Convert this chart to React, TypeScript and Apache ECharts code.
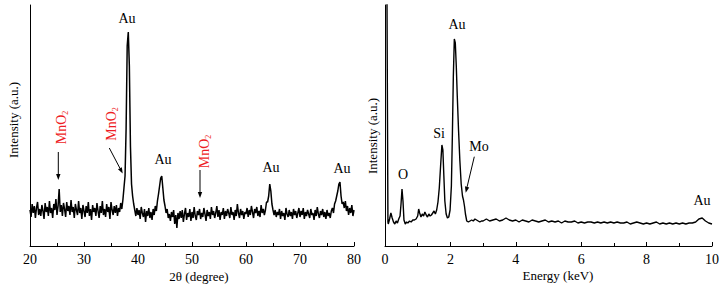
import { useEffect, useRef } from "react";
import * as echarts from "echarts";

// XRD pattern: 2θ from 20 to 80 in steps of 0.2
const xrdStart = 20;
const xrdStep = 0.2;
const xrdIntensity = [
  36, 29, 42, 33, 40, 28, 38, 44, 31, 37,
  30, 41, 35, 27, 43, 34, 39, 30, 45, 33,
  38, 28, 42, 36, 47, 31, 40, 57, 34, 41,
  30, 43, 37, 29, 44, 35, 40, 31, 46, 34,
  39, 28, 42, 36, 31, 45, 33, 38, 27, 41,
  35, 29, 40, 33, 44, 30, 37, 26, 41, 34,
  38, 30, 43, 35, 28, 40, 33, 45, 31, 37,
  29, 42, 34, 39, 27, 44, 36, 31, 40, 33,
  41, 30, 38, 34, 43, 37, 46, 58, 70, 118,
  200, 214, 180, 100, 62, 50, 42, 36, 30, 38,
  31, 36, 27, 39, 33, 29, 37, 24, 35, 30,
  38, 28, 34, 26, 37, 31, 40, 35, 45, 52,
  60, 68, 70, 58, 46, 40, 33, 37, 28, 32,
  25, 34, 29, 36, 22, 31, 18, 33, 27, 35,
  28, 36, 24, 32, 38, 26, 33, 29, 37, 25,
  34, 28, 39, 30, 26, 35, 31, 37, 27, 33,
  29, 38, 32, 25, 36, 30, 34, 27, 39, 31,
  35, 28, 33, 40, 29, 36, 26, 34, 31, 38,
  27, 35, 30, 37, 33, 28, 39, 31, 34, 26,
  36, 30, 42, 33, 28, 37, 31, 35, 27, 34,
  32, 38, 29, 36, 31, 40, 34, 28, 37, 33,
  39, 30, 35, 29, 41, 33, 37, 31, 36, 44,
  44, 50, 62, 55, 42, 36, 31, 36, 29, 34,
  31, 37, 27, 35, 30, 33, 26, 38, 32, 29,
  36, 30, 34, 27, 37, 31, 35, 28, 33, 38,
  29, 35, 31, 38, 27, 34, 30, 36, 32, 28,
  37, 31, 33, 26, 36, 30, 39, 32, 28, 35,
  31, 37, 29, 34, 27, 36, 30, 33, 28, 35,
  38, 33, 42, 45, 50, 55, 62, 64, 50, 42,
  44, 38, 45, 35, 40, 31, 38, 33, 41, 30,
  36,
];

// EDS spectrum
const edsEnergy = [
  0.01, 0.06, 0.09, 0.1, 0.14, 0.18, 0.22, 0.26, 0.3, 0.34, 0.38, 0.42, 0.46, 0.49,
  0.52, 0.55, 0.58, 0.62, 0.66, 0.7, 0.75, 0.8, 0.85, 0.9, 0.95, 1.0, 1.03, 1.06,
  1.1, 1.14, 1.18, 1.22, 1.26, 1.3, 1.34, 1.38, 1.42, 1.46, 1.5, 1.54, 1.58, 1.62,
  1.66, 1.7, 1.74, 1.77, 1.8, 1.83, 1.87, 1.91, 1.95, 1.99, 2.03, 2.06, 2.09, 2.12,
  2.15, 2.18, 2.21, 2.25, 2.29, 2.33, 2.37, 2.4, 2.43, 2.46, 2.5, 2.55, 2.6, 2.65,
  2.7, 2.75, 2.8, 2.85, 2.9, 2.95,
  3.0, 3.1, 3.2, 3.3, 3.4, 3.5, 3.6, 3.7, 3.8, 3.9,
  4.0, 4.1, 4.2, 4.3, 4.4, 4.5, 4.6, 4.7, 4.8, 4.9,
  5.0, 5.1, 5.2, 5.3, 5.4, 5.5, 5.6, 5.7, 5.8, 5.9,
  6.0, 6.1, 6.2, 6.3, 6.4, 6.5, 6.6, 6.7, 6.8, 6.9,
  7.0, 7.1, 7.2, 7.3, 7.4, 7.5, 7.6, 7.7, 7.8, 7.9,
  8.0, 8.1, 8.2, 8.3, 8.4, 8.5, 8.6, 8.7, 8.8, 8.9,
  9.0, 9.1, 9.2, 9.3, 9.4, 9.5, 9.6, 9.7, 9.8, 9.9, 10.0,
];
const edsCounts = [
  250, 250, 24, 22, 27, 33, 28, 24, 22, 25, 23, 27, 30, 42,
  57, 45, 26, 22, 24, 23, 25, 24, 26, 26, 27, 30, 37, 33,
  29, 32, 30, 34, 31, 29, 32, 30, 31, 33, 35, 32, 36, 44,
  58, 80, 101, 96, 70, 45, 32, 28, 29, 36, 60, 110, 170, 207,
  203, 180, 150, 115, 85, 62, 50, 46, 40, 32, 25, 24, 25, 26,
  25, 27, 26, 25, 24, 25,
  25, 27, 25, 26, 27, 25, 26, 28, 26, 25,
  26, 24, 26, 25, 24, 26, 25, 24, 25, 26,
  24, 25, 24, 25, 23, 25, 24, 24, 25, 23,
  24, 23, 24, 24, 23, 24, 23, 24, 23, 24,
  23, 24, 23, 23, 24, 22, 23, 24, 23, 22,
  23, 22, 23, 24, 22, 23, 22, 23, 22, 23,
  22, 23, 22, 23, 23, 24, 27, 28, 25, 23, 22,
];

const xrdTicks = ["20", "30", "40", "50", "60", "70", "80"];
const edsTicks = ["0", "2", "4", "6", "8", "10"];

const FONT = "Liberation Serif";
const RED = "#ee1c24";

function arrow(x1: number, y1: number, x2: number, y2: number) {
  const dx = x2 - x1;
  const dy = y2 - y1;
  const len = Math.sqrt(dx * dx + dy * dy);
  const ux = dx / len;
  const uy = dy / len;
  const L = 6;
  const w = 2.2;
  const bx = x2 - ux * L;
  const by = y2 - uy * L;
  const nx = -uy;
  const ny = ux;
  return [
    {
      type: "line",
      shape: { x1, y1, x2: bx, y2: by },
      style: { stroke: "#000", lineWidth: 1 },
      silent: true,
    },
    {
      type: "polygon",
      shape: {
        points: [
          [x2, y2],
          [bx + nx * w, by + ny * w],
          [bx - nx * w, by - ny * w],
        ],
      },
      style: { fill: "#000" },
      silent: true,
    },
  ];
}

function label(text: string, x: number, y: number, size = 14, rotate = false) {
  return {
    type: "text",
    x,
    y,
    rotation: rotate ? Math.PI / 2 : 0,
    silent: true,
    style: {
      text,
      fill: "#000",
      fontSize: size,
      fontFamily: FONT,
      align: "center",
      verticalAlign: "middle",
    },
  };
}

function mno2(x: number, y: number) {
  return {
    type: "text",
    x,
    y,
    rotation: Math.PI / 2,
    silent: true,
    style: {
      text: "{a|MnO}{b|2}",
      align: "center",
      verticalAlign: "middle",
      fontFamily: FONT,
      rich: {
        a: { fontSize: 14, fontFamily: FONT, fill: RED, lineHeight: 16 },
        b: { fontSize: 8, fontFamily: FONT, fill: RED, lineHeight: 6, verticalAlign: "bottom" },
      },
    },
  };
}

export default function App() {
  const ref = useRef<HTMLDivElement>(null);

  useEffect(() => {
    if (!ref.current) return;
    const chart = echarts.init(ref.current, undefined, { renderer: "svg" });

    const xrdData = xrdIntensity.map((v, i) => [xrdStart + i * xrdStep, v]);
    const edsData = edsEnergy.map((e, i) => [e, edsCounts[i]]);

    const xAxisCommon = {
      type: "value",
      axisLine: { show: true, lineStyle: { color: "#000", width: 1 } },
      axisTick: { show: true, inside: true, length: 4, lineStyle: { color: "#000" } },
      minorTick: { show: true, splitNumber: 2, length: 3, lineStyle: { color: "#000" } },
      splitLine: { show: false },
      minorSplitLine: { show: false },
      axisLabel: { color: "#000", fontSize: 14, fontFamily: FONT, margin: 6 },
    };
    const yAxisCommon = {
      type: "value",
      min: 0,
      max: 241,
      axisLine: { show: true, lineStyle: { color: "#000", width: 1 } },
      axisTick: { show: false },
      axisLabel: { show: false },
      splitLine: { show: false },
    };

    chart.setOption({
      animation: false,
      backgroundColor: "#fff",
      textStyle: { fontFamily: FONT },
      grid: [
        { left: 30, top: 5, width: 324, height: 241 },
        { left: 385, top: 5, width: 328, height: 241 },
      ],
      xAxis: [
        {
          ...xAxisCommon,
          gridIndex: 0,
          min: Number(xrdTicks[0]),
          max: Number(xrdTicks[xrdTicks.length - 1]),
          interval: 10,
        },
        {
          ...xAxisCommon,
          gridIndex: 1,
          min: Number(edsTicks[0]),
          max: Number(edsTicks[edsTicks.length - 1]),
          interval: 2,
        },
      ],
      yAxis: [
        { ...yAxisCommon, gridIndex: 0 },
        { ...yAxisCommon, gridIndex: 1 },
      ],
      series: [
        {
          type: "line",
          xAxisIndex: 0,
          yAxisIndex: 0,
          data: xrdData,
          showSymbol: false,
          clip: true,
          lineStyle: { color: "#000", width: 1.5 },
        },
        {
          type: "line",
          xAxisIndex: 1,
          yAxisIndex: 1,
          data: edsData,
          showSymbol: false,
          clip: true,
          lineStyle: { color: "#000", width: 1.4 },
        },
      ],
      graphic: [
        label("Intensity (a.u.)", 13, 120, 13, true),
        label("Intensity (a.u.)", 372, 136, 13, true),
        label("2θ (degree)", 199, 276, 13),
        label("Energy (keV)", 558, 275, 13),
        label("Au", 127, 18),
        label("Au", 163, 159),
        label("Au", 271, 167),
        label("Au", 342, 168),
        mno2(61, 127.5),
        mno2(111, 124),
        mno2(204, 151.5),
        ...arrow(58.3, 152, 58.3, 180),
        ...arrow(109.3, 148, 122.7, 173.5),
        ...arrow(200, 170, 200, 198),
        label("Au", 457, 24),
        label("Si", 439, 133),
        label("Mo", 479, 146),
        label("O", 403, 174.5),
        label("Au", 702, 200),
        ...arrow(474.3, 156.7, 465.7, 192.7),
      ],
    });

    return () => chart.dispose();
  }, []);

  return (
    <div
      ref={ref}
      style={{ position: "fixed", left: 0, top: 0, width: 722, height: 284 }}
    />
  );
}
